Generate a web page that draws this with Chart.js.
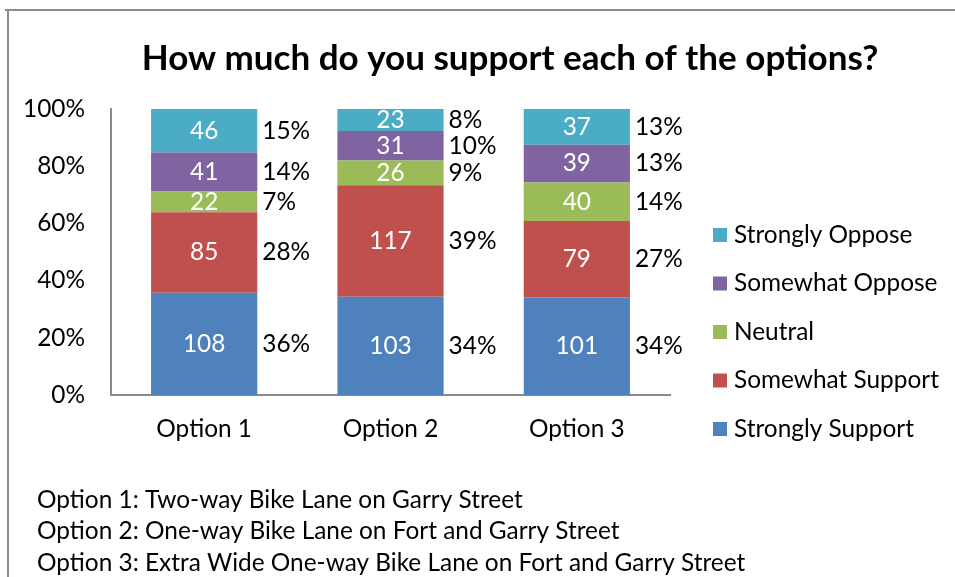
<!DOCTYPE html>
<html>
<head>
<meta charset="utf-8">
<script src="https://cdn.jsdelivr.net/npm/chart.js@4/dist/chart.umd.min.js"></script>
<style>
  html, body { margin: 0; padding: 0; background: #fff; }
  #wrap { width: 955px; height: 577px; position: relative; }
</style>
</head>
<body>
<div id="wrap"><canvas id="chart" width="955" height="577"></canvas></div>
<script>
// Survey responses per option (counts) and the rounded shares printed beside each bar
const categories = ['Option 1', 'Option 2', 'Option 3'];
const seriesNames = ['Strongly Support', 'Somewhat Support', 'Neutral', 'Somewhat Oppose', 'Strongly Oppose'];

const stronglySupport = [108, 103, 101];
const somewhatSupport = [85, 117, 79];
const neutral         = [22, 26, 40];
const somewhatOppose  = [41, 31, 39];
const stronglyOppose  = [46, 23, 37];

const pctStronglySupport = [36, 34, 34];
const pctSomewhatSupport = [28, 39, 27];
const pctNeutral         = [7, 9, 14];
const pctSomewhatOppose  = [14, 10, 13];
const pctStronglyOppose  = [15, 8, 13];

const yTickValues = [0, 20, 40, 60, 80, 100];

const chartTitle = 'How much do you support each of the options?';
const footnotes = [
  'Option 1: Two-way Bike Lane on Garry Street',
  'Option 2: One-way Bike Lane on Fort and Garry Street',
  'Option 3: Extra Wide One-way Bike Lane on Fort and Garry Street'
];

// ---- styling ----
const FONT = 'Lato, "Open Sans", sans-serif';
const TEXT_SIZE = 24.4;
const TITLE_SIZE = 35;
const seriesColors = ['#4F81BD', '#C0504D', '#9BBB59', '#8064A2', '#4BACC6'];
const axisColor = '#8a8a8a';

const counts = [stronglySupport, somewhatSupport, neutral, somewhatOppose, stronglyOppose];
const shares = [pctStronglySupport, pctSomewhatSupport, pctNeutral, pctSomewhatOppose, pctStronglyOppose];

// 100% stacking: each segment is its count over the option's total
const totals = categories.map((_, j) => counts.reduce((s, arr) => s + arr[j], 0));

const datasets = counts.map((arr, i) => ({
  label: seriesNames[i],
  data: arr.map((v, j) => v / totals[j] * 100),
  backgroundColor: seriesColors[i],
  borderWidth: 0,
  barPercentage: 0.57,
  categoryPercentage: 1.0
}));

// Frame, title, value labels, legend and footnotes
const decorations = {
  id: 'decorations',
  beforeDraw(chart) {
    const ctx = chart.ctx;
    ctx.save();
    ctx.fillStyle = '#fff';
    ctx.fillRect(0, 0, chart.width, chart.height);
    ctx.strokeStyle = '#8c8c8c';
    ctx.lineWidth = 2;
    ctx.beginPath();
    ctx.moveTo(5, 10);
    ctx.lineTo(chart.width, 10);
    ctx.moveTo(8, 10);
    ctx.lineTo(8, chart.height);
    ctx.stroke();
    ctx.restore();
  },
  afterDatasetsDraw(chart) {
    const ctx = chart.ctx;
    ctx.save();
    ctx.font = TEXT_SIZE + 'px ' + FONT;
    ctx.textBaseline = 'middle';
    chart.data.datasets.forEach((ds, i) => {
      const meta = chart.getDatasetMeta(i);
      meta.data.forEach((bar, j) => {
        const midY = (bar.y + bar.base) / 2;
        // count inside the segment
        ctx.fillStyle = '#ffffff';
        ctx.textAlign = 'center';
        ctx.fillText(String(counts[i][j]), bar.x, midY);
        // share to the right of the bar
        ctx.fillStyle = '#000000';
        ctx.textAlign = 'left';
        ctx.fillText(shares[i][j] + '%', bar.x + bar.width / 2 + 5, midY);
      });
    });
    ctx.restore();
  },
  afterDraw(chart) {
    const ctx = chart.ctx;
    ctx.save();
    // title
    ctx.fillStyle = '#000';
    ctx.font = 'bold ' + TITLE_SIZE + 'px ' + FONT;
    ctx.textAlign = 'center';
    ctx.textBaseline = 'middle';
    ctx.fillText(chartTitle, 510, 59);

    // legend, top entry is the last series
    ctx.font = TEXT_SIZE + 'px ' + FONT;
    ctx.textAlign = 'left';
    const order = chart.data.datasets.map((_, i) => i).reverse();
    order.forEach((i, k) => {
      const cy = 235 + k * 48.5;
      ctx.fillStyle = seriesColors[i];
      ctx.fillRect(713, cy - 7, 14, 14);
      ctx.fillStyle = '#000';
      ctx.fillText(chart.data.datasets[i].label, 734, cy);
    });

    // footnotes
    footnotes.forEach((line, k) => {
      ctx.fillText(line, 37, 500 + k * 31.5);
    });
    ctx.restore();
  }
};

new Chart(document.getElementById('chart'), {
  type: 'bar',
  data: { labels: categories, datasets },
  plugins: [decorations],
  options: {
    responsive: false,
    animation: false,
    events: [],
    layout: { padding: { left: 0, top: 109, right: 285, bottom: 122 } },
    plugins: {
      legend: { display: false },
      title: { display: false },
      tooltip: { enabled: false }
    },
    scales: {
      x: {
        stacked: true,
        grid: { display: false, drawTicks: false },
        border: { color: axisColor, width: 2 },
        ticks: { color: '#000', font: { family: FONT, size: TEXT_SIZE }, padding: 20 },
        afterFit(scale) { scale.height = 60; }
      },
      y: {
        stacked: true,
        min: 0,
        max: 100,
        afterBuildTicks(scale) { scale.ticks = yTickValues.map(v => ({ value: v })); },
        grid: { display: false, drawTicks: false },
        border: { color: axisColor, width: 2 },
        ticks: { color: '#000', font: { family: FONT, size: TEXT_SIZE }, padding: 26, callback: v => v + '%' },
        afterFit(scale) { scale.width = 111; }
      }
    }
  }
});
</script>
</body>
</html>
